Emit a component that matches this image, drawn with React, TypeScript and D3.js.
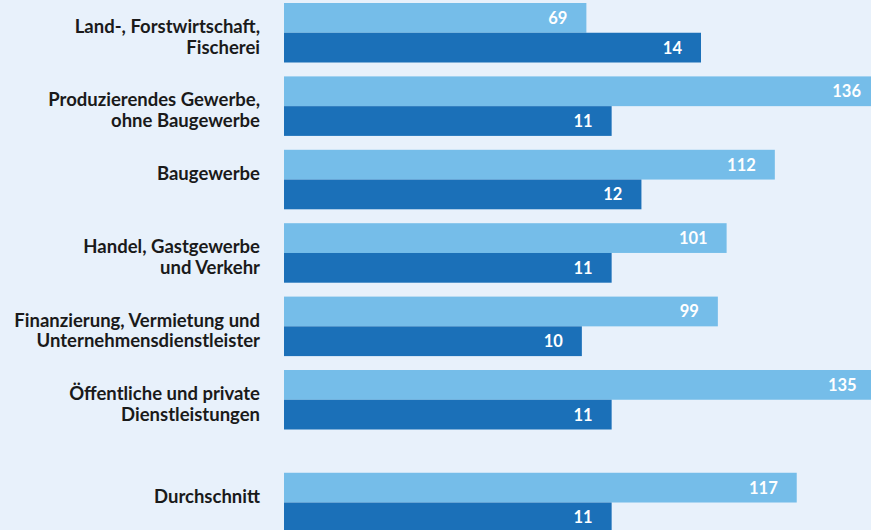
import React, { useEffect, useRef } from 'react';
import * as d3 from 'd3';

const categories = [
  ['Land-, Forstwirtschaft,', 'Fischerei'],
  ['Produzierendes Gewerbe,', 'ohne Baugewerbe'],
  ['Baugewerbe'],
  ['Handel, Gastgewerbe', 'und Verkehr'],
  ['Finanzierung, Vermietung und', 'Unternehmensdienstleister'],
  ['Öffentliche und private', 'Dienstleistungen'],
  ['Durchschnitt'],
];
// slot position of each group (extra gap before the average)
const slots = [0, 1, 2, 3, 4, 5, 6.4];
const lightValues = [69, 136, 112, 101, 99, 135, 117];
const darkValues = [14, 11, 12, 11, 10, 11, 11];

const W = 871;
const H = 530;

const App: React.FC = () => {
  const svgRef = useRef<SVGSVGElement>(null);

  useEffect(() => {
    document.body.style.margin = '0';
    if (!svgRef.current) return;
    const svg = d3.select(svgRef.current);
    svg.selectAll('*').remove();

    svg.append('rect').attr('width', W).attr('height', H).attr('fill', '#e8f1fb');

    const x0 = 284;
    const xLight = d3.scaleLinear().domain([0, 136]).range([x0, 880]);
    const xDark = d3.scaleLinear().domain([0, 14]).range([x0, 701]);
    const y = d3.scaleLinear().domain([0, 1]).range([3, 76.4]);
    const sub = d3.scaleBand<string>().domain(['light', 'dark']).range([0, 59.5]);

    const font = 'Lato, "Open Sans", sans-serif';

    const groups = svg.selectAll('g.grp')
      .data(categories.map((c, i) => ({ c, i })))
      .enter()
      .append('g')
      .attr('class', 'grp')
      .attr('transform', d => `translate(0,${y(slots[d.i])})`);

    groups.append('rect')
      .attr('x', x0)
      .attr('y', sub('light')!)
      .attr('width', d => xLight(lightValues[d.i]) - x0)
      .attr('height', sub.bandwidth())
      .attr('fill', '#75bde9');

    groups.append('rect')
      .attr('x', x0)
      .attr('y', sub('dark')!)
      .attr('width', d => xDark(darkValues[d.i]) - x0)
      .attr('height', sub.bandwidth())
      .attr('fill', '#1b70b8');

    groups.append('text')
      .attr('x', d => xLight(lightValues[d.i]) - 19)
      .attr('y', sub('light')! + sub.bandwidth() / 2)
      .attr('dy', '0.36em')
      .attr('text-anchor', 'end')
      .attr('font-family', font)
      .attr('font-weight', 'bold')
      .attr('font-size', '16.5px')
      .attr('fill', '#fff')
      .text(d => lightValues[d.i]);

    groups.append('text')
      .attr('x', d => xDark(darkValues[d.i]) - 19)
      .attr('y', sub('dark')! + sub.bandwidth() / 2)
      .attr('dy', '0.36em')
      .attr('text-anchor', 'end')
      .attr('font-family', font)
      .attr('font-weight', 'bold')
      .attr('font-size', '16.5px')
      .attr('fill', '#fff')
      .text(d => darkValues[d.i]);

    // labels start at the first-line position, wrapping downwards
    const lineH = 20.7;
    groups.each(function (d) {
      const g = d3.select(this);
      d.c.forEach((line, k) => {
        g.append('text')
          .attr('x', 260)
          .attr('y', 23.3 + k * lineH)
          .attr('dy', '0.36em')
          .attr('text-anchor', 'end')
          .attr('font-family', font)
          .attr('font-weight', 'bold')
          .attr('font-size', '18.5px')
          .attr('fill', '#1a1a1a')
          .text(line);
      });
    });
  }, []);

  return <svg ref={svgRef} width={W} height={H} style={{ display: 'block' }} />;
};

export default App;
